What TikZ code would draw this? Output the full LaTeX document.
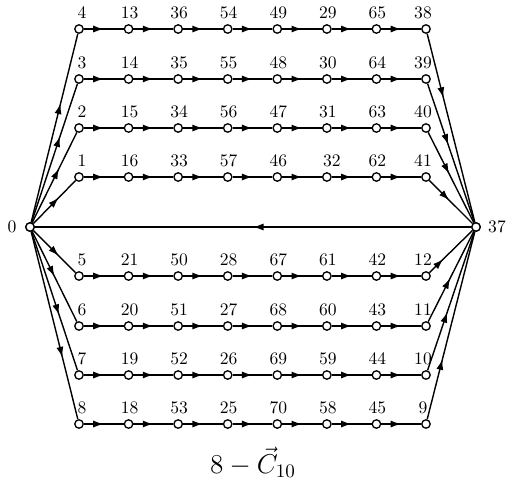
\RequirePackage{fix-cm}
\documentclass[tikz,border=0pt]{standalone}
\usepackage{fontspec}
\usetikzlibrary{decorations.markings,arrows.meta}
\begin{document}
\begin{tikzpicture}[x=0.02cm,y=-0.02cm,
  vtx/.style={circle,draw,fill=white,inner sep=0pt,minimum size=4.8pt,line width=0.75pt},
  lbl/.style={inner sep=0pt,font=\normalsize},
  edge/.style={line width=0.8pt},
  marr/.style={decoration={markings,mark=at position #1 with {\arrow{Latex[length=6pt,width=4pt]}}},postaction={decorate}},
  marr/.default=0.5]
\useasboundingbox (0,0) rectangle (509,485);
% end vertices
\node[vtx] (n0) at (30,227) {};
\node[vtx] (n37) at (476,227) {};
\node[lbl] (l0) at (12,227) {0};
\node[lbl] (l37) at (497,227) {37};
% rows
\foreach \r/\y/\labs in {1/29/{4,13,36,54,49,29,65,38},
                         2/79/{3,14,35,55,48,30,64,39},
                         3/128/{2,15,34,56,47,31,63,40},
                         4/177/{1,16,33,57,46,32,62,41},
                         5/276/{5,21,50,28,67,61,42,12},
                         6/326/{6,20,51,27,68,60,43,11},
                         7/375/{7,19,52,26,69,59,44,10},
                         8/424/{8,18,53,25,70,58,45,9}}{
  \foreach \lab [count=\i from 0] in \labs {
    \pgfmathsetmacro\dx{\lab==32?5:(\i==0?3:(\i==7?-3:1))}
    \node[vtx,label={[lbl,label distance=3pt,xshift=\dx*0.02cm]above:\lab}] (r\r c\i) at ({79+49.57*\i},\y) {};
  }
}
% horizontal edges
\foreach \r in {1,...,8}{
  \foreach \c [evaluate=\c as \d using int(\c+1)] in {0,...,6}{
    \draw[edge,marr] (r\r c\c) -- (r\r c\d);
  }
}
% edges from 0
\draw[edge,marr=0.63] (n0) -- (r1c0);
\draw[edge,marr=0.62] (n0) -- (r2c0);
\draw[edge,marr=0.6] (n0) -- (r3c0);
\draw[edge,marr=0.6] (n0) -- (r4c0);
\draw[edge,marr=0.6] (n0) -- (r5c0);
\draw[edge,marr=0.5] (n0) -- (r6c0);
\draw[edge,marr=0.6] (n0) -- (r7c0);
\draw[edge,marr=0.67] (n0) -- (r8c0);
% edges to 37
\draw[edge,marr=0.34] (r1c7) -- (n37);
\draw[edge,marr=0.44] (r2c7) -- (n37);
\draw[edge,marr=0.46] (r3c7) -- (n37);
\draw[edge,marr=0.46] (r4c7) -- (n37);
\draw[edge,marr=0.32] (r5c7) -- (n37);
\draw[edge,marr=0.48] (r6c7) -- (n37);
\draw[edge,marr=0.42] (r7c7) -- (n37);
\draw[edge,marr=0.32] (r8c7) -- (n37);
% edge 37 -> 0
\draw[edge,marr=0.5] (n37) -- (n0);
% redraw end vertices on top
\node[vtx] at (n0) {};
\node[vtx] at (n37) {};
% title
\node (title) at (253,462) {\fontsize{15.5}{18}\selectfont $8-\vec{C}_{10}$};
\end{tikzpicture}
\end{document}
